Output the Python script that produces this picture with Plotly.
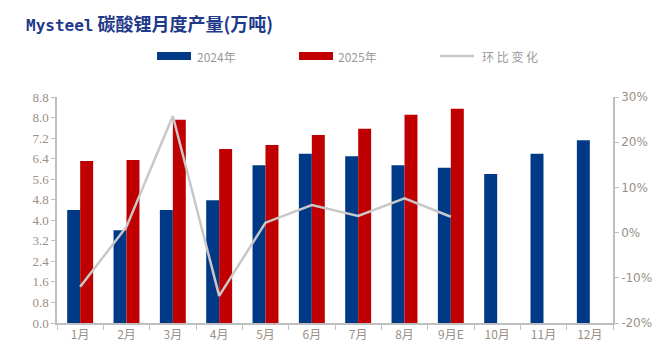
import plotly.graph_objects as go

months = ["1月", "2月", "3月", "4月", "5月", "6月", "7月", "8月", "9月E", "10月", "11月", "12月"]
prod_2024 = [4.40, 3.61, 4.40, 4.78, 6.14, 6.59, 6.49, 6.14, 6.05, 5.80, 6.59, 7.12]
prod_2025 = [6.31, 6.35, 7.91, 6.78, 6.93, 7.32, 7.56, 8.11, 8.34, None, None, None]
mom_pct = [-12.0, 1.3, 25.8, -14.0, 2.2, 6.1, 3.7, 7.6, 3.5, None, None, None]

left_ticks = [round(0.8 * i, 1) for i in range(12)]
right_ticks = [-20, -10, 0, 10, 20, 30]
right_labels = [f"{v}%" for v in right_ticks]
series_names = ["2024年", "2025年", "环比变化"]

BLUE = "#003A86"
RED = "#C00000"
GRAY = "#C8C8C8"
AXIS = "#BFBFBF"
TICKC = "#9A9088"
LEGC = "#9A9A9A"

fig = go.Figure()
fig.add_trace(go.Bar(x=months, y=prod_2024, name=series_names[0], marker_color=BLUE,
                     marker_line_width=0, yaxis="y"))
fig.add_trace(go.Bar(x=months, y=prod_2025, name=series_names[1], marker_color=RED,
                     marker_line_width=0, yaxis="y"))
fig.add_trace(go.Scatter(x=months, y=mom_pct, name=series_names[2], mode="lines",
                         line=dict(color=GRAY, width=2.5), yaxis="y2",
                         connectgaps=False))

# custom legend (wide swatches as in the reference)
shapes = [
    dict(type="rect", xref="paper", yref="paper", x0=0.1799, x1=0.241, y0=1.164, y1=1.199,
         fillcolor=BLUE, line_width=0),
    dict(type="rect", xref="paper", yref="paper", x0=0.4353, x1=0.4964, y0=1.164, y1=1.199,
         fillcolor=RED, line_width=0),
    dict(type="line", xref="paper", yref="paper", x0=0.6888, x1=0.75, y0=1.1814, y1=1.1814,
         line=dict(color=GRAY, width=2.5)),
]
legfont = dict(family="Noto Sans CJK SC", size=12, color=LEGC)
annotations = [
    dict(text=series_names[0], xref="paper", yref="paper", x=0.248, y=1.1814,
         xanchor="left", yanchor="middle", showarrow=False, font=legfont),
    dict(text=series_names[1], xref="paper", yref="paper", x=0.502, y=1.1814,
         xanchor="left", yanchor="middle", showarrow=False, font=legfont),
    dict(text="环 比 变 化", xref="paper", yref="paper", x=0.761, y=1.1814,
         xanchor="left", yanchor="middle", showarrow=False, font=legfont),
    dict(text="<b><span style='font-family:DejaVu Sans Mono;font-size:16px'>Mysteel</span> 碳酸锂月度产量(万吨)</b>",
         xref="paper", yref="paper", x=-0.0576, y=1.39, xanchor="left", yanchor="top",
         borderpad=0, showarrow=False,
         font=dict(family="Noto Sans CJK SC", size=18, color="#1F3A8A")),
]

# the page body adds an 8px offset; margins compensate so the plot area lands where the reference has it
fig.update_layout(
    width=669, height=360,
    margin=dict(l=49, r=64, t=89, b=45, autoexpand=False),
    paper_bgcolor="white", plot_bgcolor="white",
    barmode="group", bargap=0.44, bargroupgap=0,
    showlegend=False,
    shapes=shapes, annotations=annotations,
    xaxis=dict(type="category", showline=True, linecolor=AXIS, linewidth=1.5,
               ticks="outside", tickson="boundaries", tickcolor=AXIS, ticklen=5,
               tickfont=dict(family="Noto Sans CJK SC", size=12, color=TICKC),
               showgrid=False, zeroline=False),
    yaxis=dict(range=[0, 8.8], tickvals=left_ticks, tickformat=".1f",
               showline=True, linecolor=AXIS, linewidth=1.5,
               ticks="outside", tickcolor=AXIS, ticklen=4,
               tickfont=dict(family="Liberation Serif", size=13, color=TICKC),
               showgrid=False, zeroline=False),
    yaxis2=dict(range=[-20, 30], tickvals=right_ticks, ticktext=right_labels,
                overlaying="y", side="right",
                showline=True, linecolor=AXIS, linewidth=1.5,
                ticks="outside", tickcolor=AXIS, ticklen=4,
                tickfont=dict(family="DejaVu Sans", size=12, color=TICKC),
                showgrid=False, zeroline=False),
)

fig.write_html("out.html")
